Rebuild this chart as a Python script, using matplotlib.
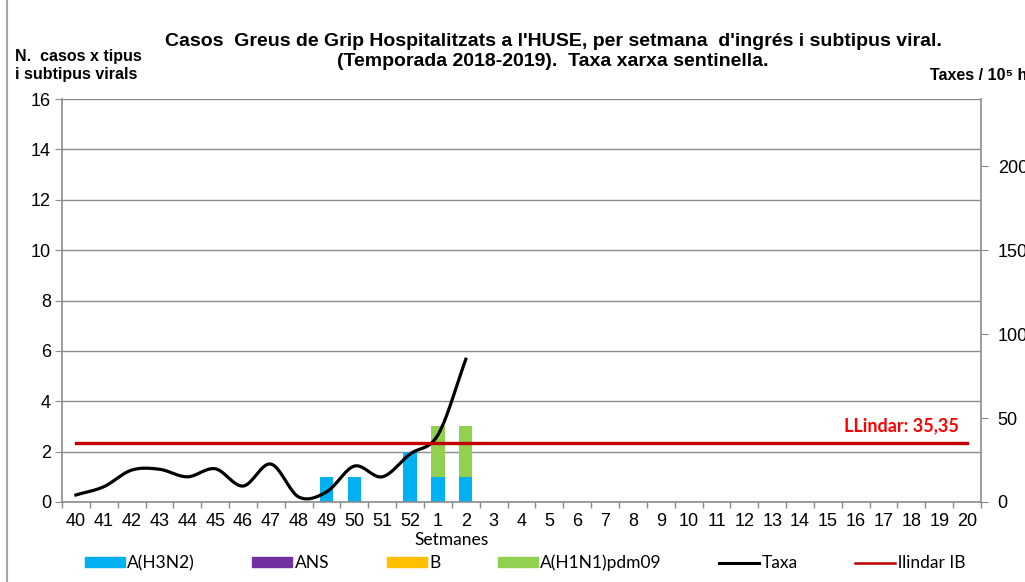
import numpy as np
import matplotlib
matplotlib.use('Agg')
import matplotlib.pyplot as plt
from matplotlib.patches import Patch
from matplotlib.lines import Line2D

# weeks of the season
weeks = [str(w) for w in range(40, 53)] + [str(w) for w in range(1, 21)]

# cases per subtype (only weeks with data, rest zero)
h3n2 = [0]*9 + [1, 1, 0, 2, 1, 1] + [0]*18
ans = [0]*33
b = [0]*33
h1n1 = [0]*13 + [2, 2] + [0]*18

# sentinel network rate (per 10^5 inhab.), weeks 40..2
taxa = [4.2, 9.1, 19.0, 19.5, 15.0, 19.8, 9.5, 22.6, 3.0, 6.0, 21.4, 15.0, 28.6, 40.0, 85.0]
llindar = 35.35

plt.rcParams['font.family'] = ['Liberation Sans', 'DejaVu Sans']


def smooth(xs, ys, n=20):
    # catmull-rom style smoothing, like Excel's "smoothed line"
    xs = np.asarray(xs, float)
    ys = np.asarray(ys, float)
    px = np.concatenate([[2*xs[0]-xs[1]], xs, [2*xs[-1]-xs[-2]]])
    py = np.concatenate([[2*ys[0]-ys[1]], ys, [2*ys[-1]-ys[-2]]])
    ox, oy = [], []
    t = np.linspace(0, 1, n)
    for i in range(1, len(px)-2):
        for p, out in ((px, ox), (py, oy)):
            p0, p1, p2, p3 = p[i-1], p[i], p[i+1], p[i+2]
            out.extend(0.5*((2*p1) + (-p0+p2)*t + (2*p0-5*p1+4*p2-p3)*t**2
                            + (-p0+3*p1-3*p2+p3)*t**3))
    return ox, oy


fig = plt.figure(figsize=(10.25, 5.82), dpi=100)
ax = fig.add_axes([62/1025, 1-502/582, (981-62)/1025, (502-99)/582])
x = np.arange(len(weeks))
grey = '#8c8c8c'

w = 0.48
ax.bar(x, h3n2, w, color='#00B0F0', zorder=2)
ax.bar(x, ans, w, bottom=h3n2, color='#7030A0', zorder=2)
bot = np.array(h3n2) + np.array(ans)
ax.bar(x, b, w, bottom=bot, color='#FFC000', zorder=2)
bot = bot + np.array(b)
ax.bar(x, h1n1, w, bottom=bot, color='#92D050', zorder=2)

ax.set_xlim(-0.5, len(weeks)-0.5)
ax.set_ylim(0, 16)
ax.set_yticks(range(0, 17, 2))
ax.yaxis.grid(True, color=grey, lw=1)
ax.set_axisbelow(True)
ax.set_xticks(x)
ax.set_xticklabels(weeks, fontsize=13)
ax.set_xticks(np.arange(-0.5, len(weeks), 1), minor=True)
ax.tick_params(axis='x', which='major', length=0, pad=8)
ax.tick_params(axis='x', which='minor', length=4, color=grey, width=1)
ax.tick_params(axis='y', length=5, color=grey, labelsize=13, pad=3)
ax.spines['top'].set_visible(False)
for s in ['left', 'bottom', 'right']:
    ax.spines[s].set_color(grey)
    ax.spines[s].set_linewidth(1.2)
fig.text(452/1025, 1-540/582, 'Setmanes', family='Lato', fontsize=12.5, ha='center', va='center')

ax2 = ax.twinx()
ax2.set_ylim(0, 240)
ax2.set_yticks(range(0, 201, 50))
ax2.tick_params(axis='y', length=5, color=grey, labelsize=13, pad=7)
for s in ax2.spines.values():
    s.set_visible(False)
sx, sy = smooth(x[:len(taxa)], taxa)
ax2.plot(sx, sy, color='black', lw=2.3, zorder=3)
ax2.plot([0, len(weeks)-1], [llindar, llindar], color='#C00000', lw=2.4, zorder=3)
ax2.text(len(weeks)-1.3, llindar+5, 'LLindar: ' + f'{llindar:.2f}'.replace('.', ','),
         color='#FF0000', family='Lato', fontweight='bold', fontsize=13, ha='right', va='bottom')

fig.text(553/1025, 1-41/582, "Casos  Greus de Grip Hospitalitzats a l'HUSE, per setmana  d'ingrés i subtipus viral.",
         ha='center', va='center', fontsize=14, fontweight='bold')
fig.text(553/1025, 1-61/582, "(Temporada 2018-2019).  Taxa xarxa sentinella.",
         ha='center', va='center', fontsize=14, fontweight='bold')
fig.text(15/1025, 1-57/582, "N.  casos x tipus", ha='left', va='center', fontsize=11.5, fontweight='bold')
fig.text(15/1025, 1-74/582, "i subtipus virals", ha='left', va='center', fontsize=11.5, fontweight='bold')
fig.text(930/1025, 1-76/582, "Taxes / 10\u2075 h", ha='left', va='center', fontsize=11.5, fontweight='bold')

# outer chart border on the left
fig.add_artist(Line2D([7/1025, 7/1025], [0, 1], color='#a6a6a6', lw=1.5))

handles = [Patch(color='#00B0F0'), Patch(color='#7030A0'), Patch(color='#FFC000'),
           Patch(color='#92D050'), Line2D([], [], color='black', lw=2.2),
           Line2D([], [], color='#C00000', lw=1.8)]
labels = ['A(H3N2)', 'ANS', 'B', 'A(H1N1)pdm09', 'Taxa', 'llindar IB']
fig.legend(handles, labels, ncol=6, loc='center', bbox_to_anchor=(525/1025, 1-563/582),
           frameon=False, prop={'family': 'Lato', 'size': 12.5}, handlelength=2.3,
           handleheight=0.5, handletextpad=0.15, columnspacing=3.3)

fig.savefig('out.png', dpi=100)
